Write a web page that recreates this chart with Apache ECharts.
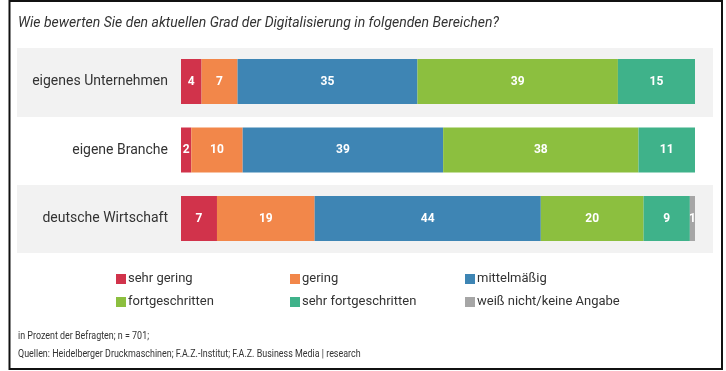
<!DOCTYPE html>
<html>
<head>
<meta charset="utf-8">
<script src="https://cdn.jsdelivr.net/npm/echarts@6/dist/echarts.min.js"></script>
<style>
  html, body { margin: 0; padding: 0; background: #fff; }
  #chart { width: 726px; height: 371px; }
</style>
</head>
<body>
<div id="chart"></div>
<script>
// Survey rows (top to bottom)
const categories = ['eigenes Unternehmen', 'eigene Branche', 'deutsche Wirtschaft'];

// Answer shares in percent, one array per answer
const sehrGering = [4, 2, 7];
const gering = [7, 10, 19];
const mittelmaessig = [35, 39, 44];
const fortgeschritten = [39, 38, 20];
const sehrFortgeschritten = [15, 11, 9];
const keineAngabe = [0, 0, 1];

const seriesNames = ['sehr gering', 'gering', 'mittelmäßig', 'fortgeschritten', 'sehr fortgeschritten', 'weiß nicht/keine Angabe'];
const seriesValues = [sehrGering, gering, mittelmaessig, fortgeschritten, sehrFortgeschritten, keineAngabe];
const colors = ['#d1334b', '#f2874a', '#3e85b4', '#8cbf3f', '#3fb28a', '#a6a6a6'];

const titleText = 'Wie bewerten Sie den aktuellen Grad der Digitalisierung in folgenden Bereichen?';
const noteLines = [
  'in Prozent der Befragten; n = 701;',
  'Quellen: Heidelberger Druckmaschinen; F.A.Z.-Institut; F.A.Z. Business Media | research'
];

const FONT = 'Roboto, "Noto Sans", sans-serif';
const chart = echarts.init(document.getElementById('chart'), null, { renderer: 'canvas' });

const series = seriesNames.map((name, i) => ({
  name: name,
  type: 'bar',
  stack: 'total',
  barWidth: 45,
  data: seriesValues[i],
  itemStyle: { color: colors[i] },
  label: {
    show: true,
    position: 'inside',
    color: '#fff',
    fontFamily: FONT,
    fontWeight: 'bold',
    fontSize: 12,
    formatter: p => (p.value ? String(p.value) : '')
  },
  emphasis: { disabled: true }
}));

// Legend in three columns of two entries
const legendCols = [
  { left: 111, data: [seriesNames[0], seriesNames[3]] },
  { left: 285, data: [seriesNames[1], seriesNames[4]] },
  { left: 460, data: [seriesNames[2], seriesNames[5]] }
];

chart.setOption({
  animation: false,
  backgroundColor: '#fff',
  grid: { left: 181, right: 31, top: 47.25, height: 205.5, containLabel: false },
  xAxis: { type: 'value', min: 0, max: 100, show: false },
  yAxis: {
    type: 'category',
    data: categories,
    inverse: true,
    axisLine: { show: false },
    axisTick: { show: false },
    axisLabel: { margin: 13, color: '#333', fontFamily: FONT, fontSize: 14 }
  },
  legend: legendCols.map(c => ({
    orient: 'vertical',
    left: c.left,
    top: 267,
    itemWidth: 10,
    itemHeight: 10,
    itemGap: 9,
    icon: 'rect',
    selectedMode: false,
    data: c.data,
    textStyle: { color: '#333', fontFamily: FONT, fontSize: 13, lineHeight: 14, padding: [0, 0, 0, -3] }
  })),
  graphic: [
    // alternating row bands
    { type: 'rect', z: -10, silent: true, shape: { x: 17, y: 48, width: 696, height: 69 }, style: { fill: '#f2f2f2' } },
    { type: 'rect', z: -10, silent: true, shape: { x: 17, y: 185, width: 696, height: 68 }, style: { fill: '#f2f2f2' } },
    // frame
    { type: 'rect', z: 10, silent: true, shape: { x: 9.5, y: 1, width: 712.5, height: 368 }, style: { fill: null, stroke: '#111', lineWidth: 2 } },
    // title
    { type: 'text', left: 18, top: 16, style: { text: titleText, fill: '#333', font: 'italic 14px ' + FONT } },
    // notes (narrow set)
    { type: 'text', x: 18, y: 331, scaleX: 0.85, style: { text: noteLines[0], fill: '#333', font: '10.5px ' + FONT } },
    { type: 'text', x: 18, y: 349, scaleX: 0.85, style: { text: noteLines[1], fill: '#333', font: '10.5px ' + FONT } }
  ],
  series: series
});
</script>
</body>
</html>
